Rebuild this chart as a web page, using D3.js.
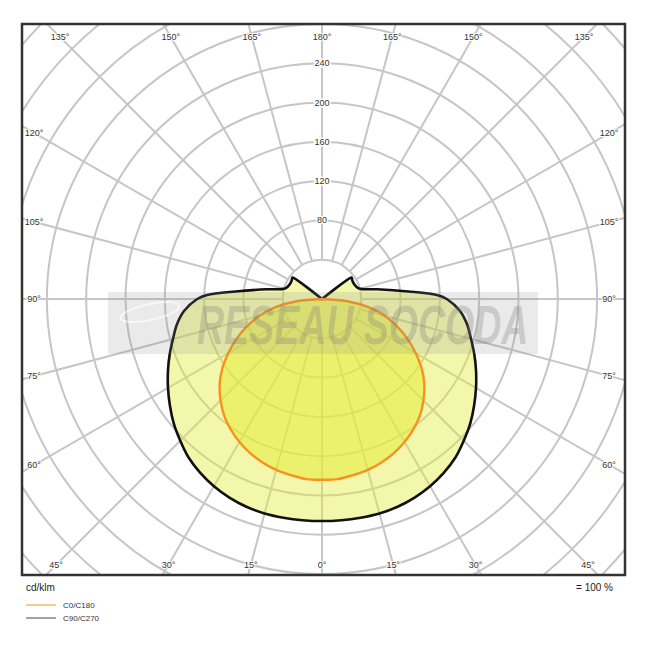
<!DOCTYPE html>
<html>
<head>
<meta charset="utf-8">
<script src="https://cdn.jsdelivr.net/npm/d3@7"></script>
<style>
  html, body { margin: 0; padding: 0; background: #fff; }
  svg { display: block; font-family: "Liberation Sans", Arial, Helvetica, sans-serif; }
</style>
</head>
<body>
<svg id="chart" width="646" height="646"></svg>
<script>
// ---- Data (cd/klm vs. gamma angle in degrees, symmetric halves) ----
const c0Angles   = [0, 5, 10, 15, 20, 25, 30, 35, 40, 45, 50, 55, 60, 65, 70, 75, 80, 85, 90, 180];
const c0Values   = [184, 184, 182, 180, 177, 173, 168, 162, 155, 146, 136, 124, 110, 96, 81, 66, 48, 26, 0, 0];

const c90Angles  = [0, 5, 10, 15, 20, 25, 30, 35, 40, 45, 50, 55, 60, 65, 70, 75, 80, 85, 90, 92, 95, 100, 105, 110, 115, 120, 125, 126, 126.5, 180];
const c90Values  = [226, 226, 226, 226, 225, 223, 220, 216, 211, 204, 197, 189, 181, 173, 165, 157, 150, 141, 127, 117, 88, 57, 40, 37, 36, 36, 37, 37, 0, 0];

const ringValues   = [40, 80, 120, 160, 200, 240, 280, 320, 360, 400];
const ringLabels   = [80, 120, 160, 200, 240];
const spokeAngles  = d3.range(0, 360, 15);
const degreeLabels = [0, 15, 30, 45, 60, 75, 90, 105, 120, 135, 150, 165, 180];
const seriesNames  = ["C0/C180", "C90/C270"];
const unitLabel    = "cd/klm";
const scaleLabel   = "= 100 %";
const watermark    = "RESEAU SOCODA";

// ---- Layout ----
const svg = d3.select("#chart");
const cx = 322, cy = 299;
const frame = { x: 22, y: 24, w: 603, h: 551 };
const r = d3.scaleLinear().domain([0, 400]).range([0, 393]);
const rad = d => d * Math.PI / 180;

svg.append("defs").append("clipPath").attr("id", "frameClip")
  .append("rect").attr("x", frame.x).attr("y", frame.y).attr("width", frame.w).attr("height", frame.h);

const plot = svg.append("g").attr("clip-path", "url(#frameClip)");
const g = plot.append("g").attr("transform", `translate(${cx},${cy})`);

// grid circles
g.selectAll("circle.ring").data(ringValues).join("circle")
  .attr("class", "ring").attr("r", d => r(d))
  .attr("fill", "none").attr("stroke", "#c6c6c6").attr("stroke-width", 2);

// spokes (start at first ring)
g.selectAll("line.spoke").data(spokeAngles).join("line")
  .attr("class", "spoke")
  .attr("x1", d => r(ringValues[0]) * Math.sin(rad(d)))
  .attr("y1", d => r(ringValues[0]) * Math.cos(rad(d)))
  .attr("x2", d => r(600) * Math.sin(rad(d)))
  .attr("y2", d => r(600) * Math.cos(rad(d)))
  .attr("stroke", "#c6c6c6").attr("stroke-width", 2);

// closed polar outline: origin -> right half (high gamma -> 0) -> left half (0 -> high gamma) -> origin
function polarPoints(angles, values) {
  const idx = angles.map((a, i) => i).filter(i => values[i] > 0);
  const pts = [[0, 0]];
  for (let k = idx.length - 1; k >= 0; k--) pts.push([Math.PI - rad(angles[idx[k]]), r(values[idx[k]])]);
  for (let k = 0; k < idx.length; k++) {
    if (angles[idx[k]] === 0) continue;
    pts.push([Math.PI + rad(angles[idx[k]]), r(values[idx[k]])]);
  }
  pts.push([0, 0]);
  return pts;
}
const radial = d3.lineRadial().angle(d => d[0]).radius(d => d[1]).curve(d3.curveCatmullRom.alpha(0.5));

const c90Pts = polarPoints(c90Angles, c90Values);
const c0Pts = polarPoints(c0Angles, c0Values);

g.append("path").attr("d", radial(c90Pts) + "Z")
  .attr("fill", "#e3ec3a").attr("fill-opacity", 0.42).attr("stroke", "none");
g.append("path").attr("d", radial(c0Pts) + "Z")
  .attr("fill", "#e3ec3a").attr("fill-opacity", 0.55).attr("stroke", "none");

// watermark
const wm = plot.append("g");
wm.append("rect").attr("x", 108).attr("y", 292).attr("width", 430).attr("height", 62)
  .attr("fill", "#8c8c8c").attr("fill-opacity", 0.18);
wm.append("ellipse").attr("cx", 150).attr("cy", 312).attr("rx", 30).attr("ry", 8)
  .attr("transform", "rotate(-12,150,312)")
  .attr("fill", "none").attr("stroke", "#ffffff").attr("stroke-opacity", 0.6).attr("stroke-width", 2);
wm.append("text").attr("transform", "translate(197,344) scale(0.67,1)")
  .attr("font-size", 56).attr("font-weight", "bold").attr("font-style", "italic")
  .attr("fill", "#7a7a7a").attr("fill-opacity", 0.3)
  .text(watermark);

// curves
g.append("path").attr("d", radial(c90Pts) + "Z")
  .attr("fill", "none").attr("stroke", "#111").attr("stroke-width", 2.6).attr("stroke-linejoin", "round");
g.append("path").attr("d", radial(c0Pts) + "Z")
  .attr("fill", "none").attr("stroke", "#f7921e").attr("stroke-width", 2.4).attr("stroke-linejoin", "round");

// radial value labels
g.selectAll("text.rl").data(ringLabels).join("text")
  .attr("class", "rl").attr("x", 0).attr("y", d => -r(d))
  .attr("text-anchor", "middle").attr("dominant-baseline", "central")
  .attr("font-size", 9).attr("fill", "#333")
  .attr("stroke", "#fff").attr("stroke-width", 3).attr("paint-order", "stroke")
  .text(d => d);

// degree labels along inset rectangle
const inset = { xmin: 34 - cx, xmax: 609 - cx, ymin: 37 - cy, ymax: 565 - cy };
const degData = [];
degreeLabels.forEach(a => {
  const sides = (a === 0 || a === 180) ? [1] : [-1, 1];
  sides.forEach(s => degData.push({ a, s }));
});
function labelPos(d) {
  const dx = d.s * Math.sin(rad(d.a)), dy = Math.cos(rad(d.a));
  const ts = [];
  if (dx > 1e-9) ts.push(inset.xmax / dx);
  if (dx < -1e-9) ts.push(inset.xmin / dx);
  if (dy > 1e-9) ts.push(inset.ymax / dy);
  if (dy < -1e-9) ts.push(inset.ymin / dy);
  const t = Math.min(...ts);
  return [dx * t, dy * t];
}
g.selectAll("text.dl").data(degData).join("text")
  .attr("class", "dl")
  .attr("x", d => labelPos(d)[0]).attr("y", d => labelPos(d)[1])
  .attr("text-anchor", "middle").attr("dominant-baseline", "central")
  .attr("font-size", 9).attr("fill", "#333")
  .attr("stroke", "#fff").attr("stroke-width", 2).attr("paint-order", "stroke")
  .text(d => d.a + "°");

// frame
svg.append("rect").attr("x", frame.x).attr("y", frame.y).attr("width", frame.w).attr("height", frame.h)
  .attr("fill", "none").attr("stroke", "#333").attr("stroke-width", 2.5);

// footer
svg.append("text").attr("x", 26).attr("y", 591).attr("font-size", 10).attr("fill", "#222").text(unitLabel);
svg.append("text").attr("x", 613).attr("y", 591).attr("text-anchor", "end").attr("font-size", 10).attr("fill", "#222").text(scaleLabel);

// legend
const legendColors = ["#f7921e", "#444"];
const lg = svg.append("g");
seriesNames.forEach((name, i) => {
  const y = 605 + i * 13;
  lg.append("line").attr("x1", 26).attr("x2", 56).attr("y1", y).attr("y2", y)
    .attr("stroke", legendColors[i]).attr("stroke-width", 1);
  lg.append("text").attr("x", 63).attr("y", y).attr("dominant-baseline", "central")
    .attr("font-size", 8).attr("fill", "#333").text(name);
});
</script>
</body>
</html>
